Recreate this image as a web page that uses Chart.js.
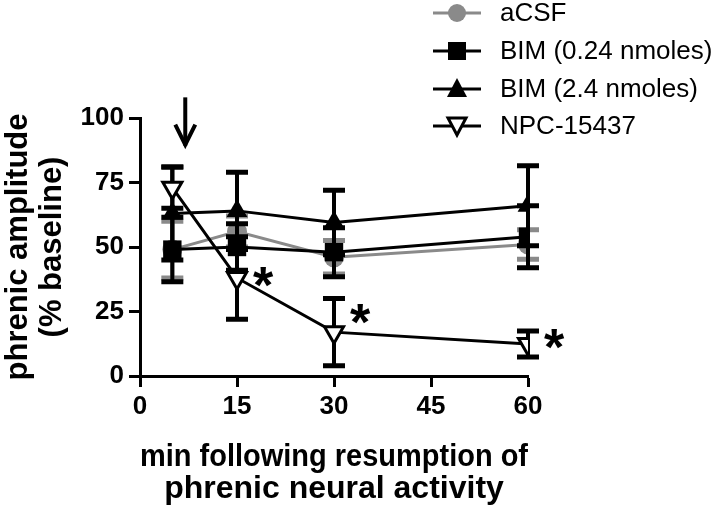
<!DOCTYPE html>
<html>
<head>
<meta charset="utf-8">
<script src="https://cdn.jsdelivr.net/npm/chart.js@4.4.1/dist/chart.umd.min.js"></script>
<style>
    html, body { margin: 0; padding: 0; background: #fff; }
    #wrap { width: 720px; height: 512px; position: relative; }
</style>
</head>
<body>
<div id="wrap"><canvas id="phrenicChart"></canvas></div>
<script>
// time points (min) and group values, % baseline
var timePoints = [5, 15, 30, 60];
var seriesNames = ['aCSF', 'BIM (0.24 nmoles)', 'BIM (2.4 nmoles)', 'NPC-15437'];
var acsfMean = [49, 56, 46, 51];
var acsfSem = [11, 6, 6.5, 5.7];
var bimLowMean = [49, 50, 48, 54];
var bimLowSem = [12.5, 9, 9.5, 12];
var bimHighMean = [63, 64, 59.5, 66];
var bimHighSem = [18, 15, 12.5, 15.5];
var npcMean = [73, 38, 17, 12.4];
var npcSem = [8, 16, 13, 5];
var starPoints = [15, 30, 60];   // significant vs aCSF
var starLevels = [38.5, 24, 14.5];
var arrowAt = 7;
var arrowFrom = 108;
var arrowTo = 88.5;
var yTicks = [0, 25, 50, 75, 100];
var xTicks = [0, 15, 30, 45, 60];

var FONT = '"Liberation Sans", Arial, sans-serif';
var GREY = '#8a8a8a';

function toPoints(means) {
    var pts = [];
    for (var i = 0; i < timePoints.length; i++) {
        pts.push({x: timePoints[i], y: means[i]});
    }
    return pts;
}

var errorBars = {
    id: 'errorBars',
    beforeDatasetDraw: function (chart, args) {
        var ds = chart.data.datasets[args.index];
        if (!ds.sem) return;
        var ctx = chart.ctx;
        var xs = chart.scales.x, ys = chart.scales.y;
        ctx.save();
        ctx.strokeStyle = ds.barColor;
        ctx.lineCap = 'butt';
        for (var i = 0; i < ds.data.length; i++) {
            var px = xs.getPixelForValue(ds.data[i].x);
            var top = ys.getPixelForValue(ds.data[i].y + ds.sem[i]);
            var bot = ys.getPixelForValue(ds.data[i].y - ds.sem[i]);
            ctx.lineWidth = 4;
            ctx.beginPath();
            ctx.moveTo(px, top);
            ctx.lineTo(px, bot);
            ctx.stroke();
            ctx.lineWidth = 5;
            ctx.beginPath();
            ctx.moveTo(px - 11, top);
            ctx.lineTo(px + 11, top);
            ctx.moveTo(px - 11, bot);
            ctx.lineTo(px + 11, bot);
            ctx.stroke();
        }
        ctx.restore();
    }
};

function drawMarker(ctx, style, x, y) {
    ctx.save();
    ctx.lineWidth = 3;
    if (style === 'circle') {
        ctx.fillStyle = GREY;
        ctx.beginPath();
        ctx.arc(x, y, 9, 0, Math.PI * 2);
        ctx.fill();
    } else if (style === 'rect') {
        ctx.fillStyle = '#000';
        ctx.fillRect(x - 9, y - 9, 18, 18);
    } else if (style === 'up') {
        ctx.fillStyle = '#000';
        ctx.beginPath();
        ctx.moveTo(x, y - 11);
        ctx.lineTo(x + 10, y + 8);
        ctx.lineTo(x - 10, y + 8);
        ctx.closePath();
        ctx.fill();
    } else {
        ctx.fillStyle = '#fff';
        ctx.strokeStyle = '#000';
        ctx.beginPath();
        ctx.moveTo(x, y + 9);
        ctx.lineTo(x + 9, y - 8);
        ctx.lineTo(x - 9, y - 8);
        ctx.closePath();
        ctx.fill();
        ctx.stroke();
    }
    ctx.restore();
}

var extras = {
    id: 'extras',
    afterDraw: function (chart) {
        var ctx = chart.ctx;
        var xs = chart.scales.x, ys = chart.scales.y;
        ctx.save();

        // legend
        var styles = ['circle', 'rect', 'up', 'down'];
        var rows = [13, 51, 89, 126];
        ctx.font = '26px ' + FONT;
        ctx.textBaseline = 'middle';
        for (var i = 0; i < seriesNames.length; i++) {
            ctx.strokeStyle = i === 0 ? GREY : '#000';
            ctx.lineWidth = 3;
            ctx.beginPath();
            ctx.moveTo(433, rows[i]);
            ctx.lineTo(481, rows[i]);
            ctx.stroke();
            drawMarker(ctx, styles[i], 457, rows[i]);
            ctx.fillStyle = '#000';
            ctx.fillText(seriesNames[i], 500, rows[i] + 1);
        }

        // asterisks next to NPC points
        ctx.font = 'bold 52px ' + FONT;
        ctx.textBaseline = 'alphabetic';
        ctx.textAlign = 'center';
        var m = ctx.measureText('*');
        var mid = (m.actualBoundingBoxAscent - m.actualBoundingBoxDescent) / 2;
        for (var j = 0; j < starPoints.length; j++) {
            var sx = xs.getPixelForValue(starPoints[j]) + 26;
            var sy = ys.getPixelForValue(starLevels[j]);
            ctx.fillText('*', sx, sy + mid);
        }

        // arrow marking injection
        var ax = xs.getPixelForValue(arrowAt);
        var tip = ys.getPixelForValue(arrowTo);
        ctx.strokeStyle = '#000';
        ctx.lineWidth = 4;
        ctx.beginPath();
        ctx.moveTo(ax, ys.getPixelForValue(arrowFrom));
        ctx.lineTo(ax, tip - 2);
        ctx.stroke();
        ctx.lineJoin = 'miter';
        ctx.beginPath();
        ctx.moveTo(ax - 10, tip - 23);
        ctx.lineTo(ax, tip - 3);
        ctx.lineTo(ax + 10, tip - 23);
        ctx.stroke();
        ctx.restore();
    }
};

var ctx = document.getElementById('phrenicChart').getContext('2d');
var chart = new Chart(ctx, {
    type: 'line',
    data: {
        datasets: [
            {
                label: seriesNames[0], data: toPoints(acsfMean), sem: acsfSem, barColor: GREY,
                borderColor: GREY, backgroundColor: GREY, borderWidth: 3,
                pointStyle: 'circle', pointRadius: 10, pointBorderWidth: 0, order: 4
            },
            {
                label: seriesNames[1], data: toPoints(bimLowMean), sem: bimLowSem, barColor: '#000',
                borderColor: '#000', backgroundColor: '#000', borderWidth: 3,
                pointStyle: 'rect', pointRadius: 13, pointBorderWidth: 0, order: 3
            },
            {
                label: seriesNames[2], data: toPoints(bimHighMean), sem: bimHighSem, barColor: '#000',
                borderColor: '#000', backgroundColor: '#000', borderWidth: 3,
                pointStyle: 'triangle', pointRadius: 12, pointBorderWidth: 0, order: 2
            },
            {
                label: seriesNames[3], data: toPoints(npcMean), sem: npcSem, barColor: '#000',
                borderColor: '#000', backgroundColor: '#fff', borderWidth: 3,
                pointStyle: 'triangle', pointRotation: 180, pointRadius: 11,
                pointBorderWidth: 3, pointBackgroundColor: '#fff', order: 1
            }
        ]
    },
    options: {
        responsive: true,
        maintainAspectRatio: false,
        animation: false,
        layout: { padding: { top: 118, right: 192, left: 0, bottom: 0 } },
        plugins: {
            legend: { display: false },
            tooltip: { enabled: false }
        },
        elements: { line: { tension: 0 } },
        scales: {
            x: {
                type: 'linear', min: 0, max: 60,
                afterBuildTicks: function (axis) {
                    axis.ticks = xTicks.map(function (v) { return {value: v}; });
                },
                afterFit: function (axis) { axis.height = 136; },
                border: { display: true, color: '#000', width: 3 },
                grid: { drawOnChartArea: false, drawTicks: true, tickLength: 11, tickWidth: 3, tickColor: '#000' },
                ticks: { color: '#000', padding: 4, font: { family: FONT, size: 26, weight: 'bold' } },
                title: {
                    display: true,
                    text: ['min following resumption of', 'phrenic neural activity'],
                    color: '#000',
                    font: { family: FONT, size: 32, weight: 'bold', lineHeight: 1.0 },
                    padding: { top: 10, bottom: 7 }
                }
            },
            y: {
                type: 'linear', min: 0, max: 100,
                afterBuildTicks: function (axis) {
                    axis.ticks = yTicks.map(function (v) { return {value: v}; });
                },
                afterFit: function (axis) { axis.width = 140; },
                border: { display: true, color: '#000', width: 3 },
                grid: { drawOnChartArea: false, drawTicks: true, tickLength: 11, tickWidth: 3, tickColor: '#000' },
                ticks: { color: '#000', padding: 5, font: { family: FONT, size: 26, weight: 'bold' } },
                title: {
                    display: true,
                    text: ['phrenic amplitude', '(% baseline)'],
                    color: '#000',
                    font: { family: FONT, size: 31, weight: 'bold', lineHeight: 1.1 },
                    padding: { top: 1, bottom: 0 }
                }
            }
        }
    },
    plugins: [errorBars, extras]
});
</script>
</body>
</html>
